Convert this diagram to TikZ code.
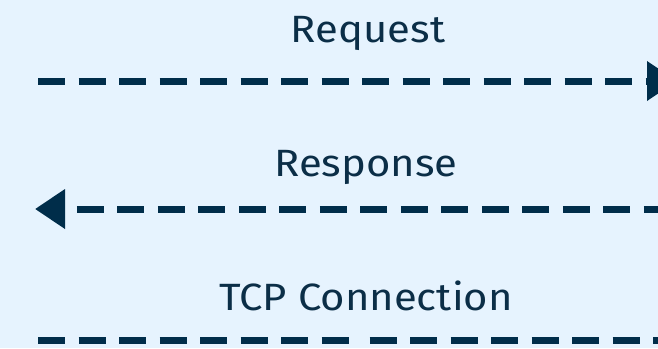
\documentclass[tikz,border=0pt]{standalone}
\usepackage{fontspec}
\setmainfont{Fira Sans}
\usetikzlibrary{arrows.meta}

\definecolor{canvas}{HTML}{E6F3FE}
\definecolor{ink}{HTML}{002D4A}
\definecolor{labelink}{HTML}{0B2E47}

% labels are set slightly widened
\newcommand{\widelabel}[1]{\scalebox{1.1}[1]{#1}}

\tikzset{
  msg/.style={draw=ink, line width=7pt, dash pattern=on 27pt off 13.5pt},
  msglabel/.style={anchor=base, inner sep=0pt, text=labelink,
                   font=\fontsize{38}{42}\selectfont},
}

\begin{document}
\begin{tikzpicture}[x=1pt, y=-1pt, >={Triangle[length=30pt, width=38pt]}]
  \fill[canvas] (0,0) rectangle (658,348);
  \useasboundingbox (0,0) rectangle (658,348);

  % end points of the three messages
  \coordinate (req-from) at (38,81);
  \coordinate (req-to)   at (677,81);
  \coordinate (resp-from) at (700,209);
  \coordinate (resp-to)   at (35,209);
  \coordinate (tcp-a) at (38,340);
  \coordinate (tcp-b) at (349,340);
  \coordinate (tcp-c) at (369.5,340);
  \coordinate (tcp-d) at (700,340);

  % labels
  \node[msglabel] (req-label)  at (368,42)  {\widelabel{Request}};
  \node[msglabel] (resp-label) at (366,176) {\widelabel{Response}};
  \node[msglabel] (tcp-label)  at (366,310) {\widelabel{TCP Connection}};

  % request: left to right
  \draw[msg, ->] (req-from) -- (req-to);
  % response: right to left, dashes counted from the arrow end
  \draw[msg, dash phase=27pt, <-] (resp-to) -- (resp-from);
  % TCP connection, two stretches
  \draw[msg] (tcp-a) -- (tcp-b);
  \draw[msg] (tcp-c) -- (tcp-d);
\end{tikzpicture}
\end{document}
